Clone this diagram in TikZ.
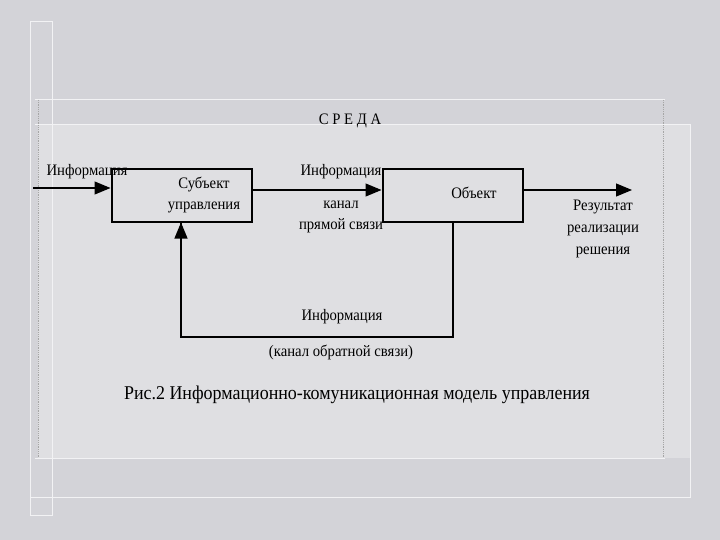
\documentclass[tikz,border=0pt]{standalone}
\usepackage{fontspec}
\setmainfont{Liberation Serif}[FakeStretch=0.92]
\usetikzlibrary{arrows.meta}
\definecolor{bgmarble}{HTML}{D3D3D8}
\definecolor{panel}{HTML}{DFDFE2}
\definecolor{frameline}{HTML}{F2F2F4}
\tikzset{
  blockbox/.style={draw=black, line width=2pt, minimum width=140pt, minimum height=53pt, inner sep=0pt},
  txt/.style={font=\fontsize{16}{18}\selectfont, inner sep=0pt, align=center},
  flow/.style={line width=1.2pt, -{Triangle[length=16pt,width=13pt]}},
  fb/.style={line width=2pt}
}
\begin{document}
\begin{tikzpicture}[x=1pt,y=-1pt]
\useasboundingbox (0,0) rectangle (720,540);
% background
\fill[bgmarble] (0,0) rectangle (720,540);
\fill[panel] (38,125) rectangle (690,458);
% frame lines
\draw[frameline, line width=1pt] (30,22) rectangle (52,515);
\draw[frameline, line width=1pt] (35,100) -- (665,100);
\draw[frameline, line width=1pt] (35,125) -- (690,125) -- (690,497) -- (30,497);
\draw[frameline, line width=1pt] (35,458) -- (665,458);
\draw[gray!70, densely dotted, line width=0.8pt] (38,100) -- (38,458);
\draw[gray!70, densely dotted, line width=0.8pt] (663,100) -- (663,458);
% title
\node[txt] (sreda) at (350,121) {С Р Е Д А};
% boxes
\node[blockbox] (subj) at (181.5,196) {};
\node[blockbox] (obj) at (452.5,196) {};
\node[txt] (subjtxt) at (204,195) {Субъект\\[3pt]управления};
\node[txt] (objtxt) at (474,193) {Объект};
% input
\coordinate (inp) at (33,188);
\draw[flow] (inp) -- (subj.west |- inp);
\node[txt] (info1) at (87,172) {Информация};
% forward channel
\draw[flow] (subj.east |- 0,190) -- (obj.west |- 0,190);
\node[txt] (info2) at (341,172) {Информация};
\node[txt] (kanal) at (341,217) {канал\\[3pt]прямой связи};
% output
\coordinate (outp) at (632,190);
\draw[flow] (obj.east |- outp) -- (outp);
\node[txt] (result) at (603,229) {Результат\\[4pt]реализации\\[4pt]решения};
% feedback
\coordinate (fbr) at (453,337);
\coordinate (fbl) at (181,337);
\draw[fb] (obj.south -| fbr) -- (fbr) -- (fbl) -- ([yshift=1pt]subj.south -| fbl);
\draw[flow] (fbl) -- ([yshift=1pt]subj.south -| fbl);
\node[txt] (info3) at (342,317) {Информация};
\node[txt] (fbtxt) at (341,352) {(канал обратной связи)};
% caption
\node[txt, font=\fontsize{19.5}{22}\selectfont] (caption) at (357,395) {Рис.2 Информационно-комуникационная модель управления};
\end{tikzpicture}
\end{document}
